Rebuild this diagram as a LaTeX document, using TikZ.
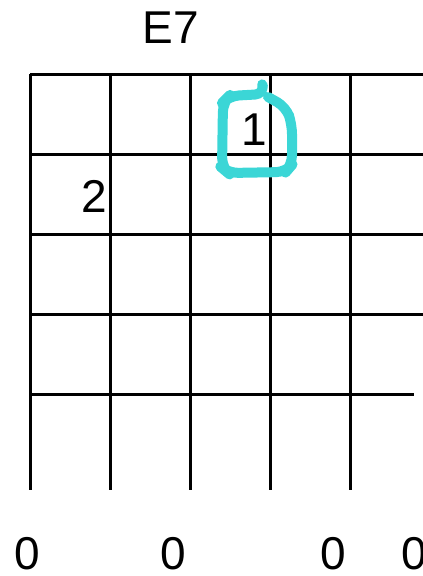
\documentclass[tikz,border=0pt]{standalone}
\usepackage{fontspec}
\setmainfont{Liberation Sans}
\definecolor{mark}{HTML}{3BD6D6}
\begin{document}
\begin{tikzpicture}[x=1pt,y=-1pt,
  gridline/.style={line width=3pt, black},
  lbl/.style={font=\fontsize{46}{50}\selectfont, inner sep=0pt, anchor=base},
  pen/.style={draw=mark, line width=10pt, line cap=round, line join=round, rounded corners=10pt}]
\useasboundingbox (0,0) rectangle (423,576);
% vertical strings
\foreach \x in {30,110,190,270,350}
  \draw[gridline] (\x,74) -- (\x,490);
% frets
\foreach \y in {74,154,234,314}
  \draw[gridline] (30,\y) -- (423,\y);
\draw[gridline] (30,394) -- (414,394);
% labels
\node[lbl] (title) at (171,43) {E7};
\node[lbl] (f2) at (94,212) {2};
\node[lbl] (f1) at (254,145) {1};
\node[lbl] (o1) at (27,569) {0};
\node[lbl] (o2) at (173,569) {0};
\node[lbl] (o3) at (333,569) {0};
\node[lbl] (o4) at (414,569) {0};
% hand-drawn circle
\draw[pen] (263,87) -- (265,94) -- (229,96) -- (223,102) -- (222,168) -- (228,173) -- (286,172) -- (292,165) -- (292,124) -- (286,107) -- (268,97);
\end{tikzpicture}
\end{document}
